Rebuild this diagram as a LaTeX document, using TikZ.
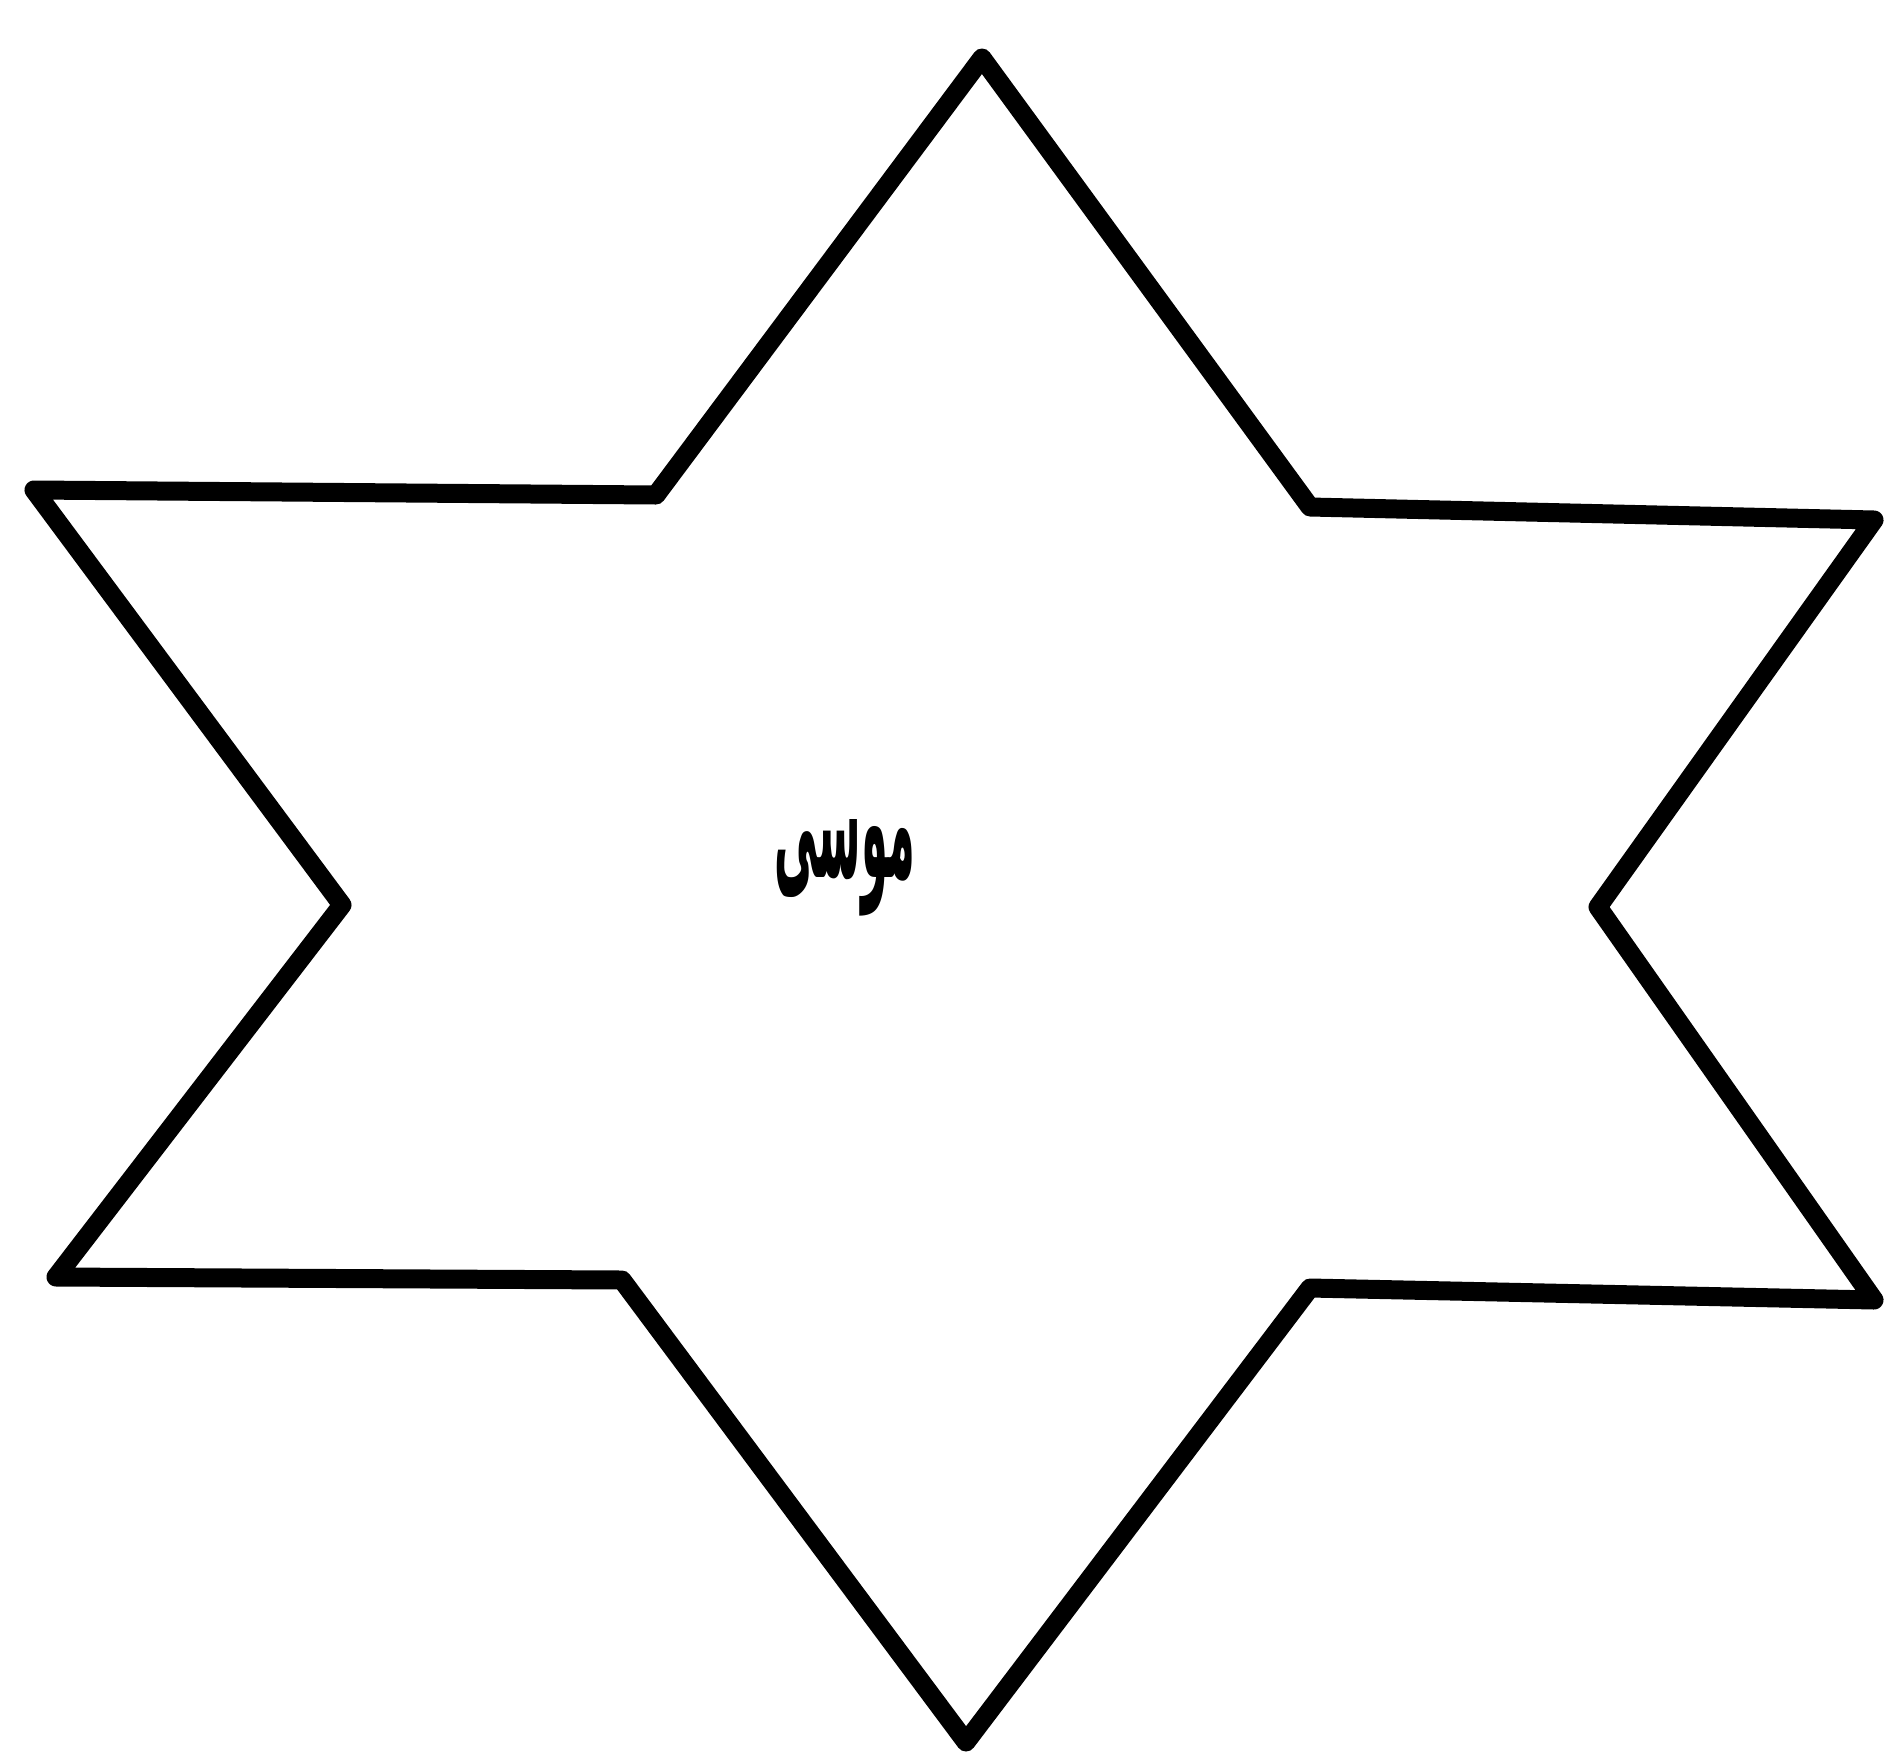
\documentclass[tikz,border=0pt]{standalone}
\usepackage{fontspec}
\newfontfamily\arabicfont[Script=Arabic]{DejaVu Sans}
\TeXXeTstate=1
\begin{document}
\begin{tikzpicture}[x=1pt,y=-1pt,
  starline/.style={draw=black,line width=19pt,line join=round,fill=white},
  label/.style={font=\arabicfont\bfseries\fontsize{72}{80}\selectfont,inner sep=0pt}]
\useasboundingbox[fill=white] (0,0) rectangle (1893,1759);
\coordinate (t) at (982,58);
\coordinate (uir) at (1310,507);
\coordinate (ro1) at (1874,520);
\coordinate (ri) at (1598,907);
\coordinate (ro2) at (1874,1300);
\coordinate (lir) at (1310,1288);
\coordinate (b) at (966,1742);
\coordinate (lil) at (622,1280);
\coordinate (lo2) at (56,1277);
\coordinate (li) at (342,905);
\coordinate (lo1) at (34,490);
\coordinate (uil) at (656,495);
\draw[starline] (t) -- (uir) -- (ro1) -- (ri) -- (ro2) -- (lir) -- (b) -- (lil) -- (lo2) -- (li) -- (lo1) -- (uil) -- cycle;
\node[label] (name) at (845,868) {\scalebox{0.6}[2.2]{\beginR موسى\endR}};
\end{tikzpicture}
\end{document}
